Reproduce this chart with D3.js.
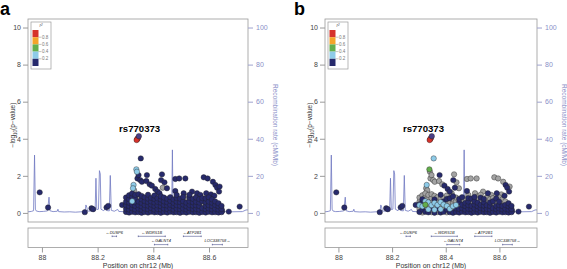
<!DOCTYPE html>
<html>
<head>
<meta charset="utf-8">
<script src="https://cdn.jsdelivr.net/npm/d3@7"></script>
<style>
  body { margin: 0; background: #fff; }
  svg { display: block; font-family: "Liberation Sans", Arial, sans-serif; }
</style>
</head>
<body>
<svg id="chart" width="567" height="269"></svg>
<script>
// ---- data ----
const xDomain = [87.95, 88.74];
const xTicks = [88, 88.2, 88.4, 88.6];
const logpTicks = [0, 2, 4, 6, 8, 10];
const recTicks = [0, 20, 40, 60, 80, 100];
const legendCodes = ['r', 'o', 'g', 'l', 'n'];
const legendLabels = ['0.8', '0.6', '0.4', '0.2'];
const leadSnp = 'rs770373';

// LD codes: x = no r2, n < 0.2, l 0.2-0.4, g 0.4-0.6, o 0.6-0.8, r > 0.8, p = reference
const ldColors = { x: '#a3a3a3', n: '#272a6c', l: '#8ecbe8', g: '#63ae4c', o: '#f4a42a', r: '#d6322b', p: '#4a3f86' };
const drawOrder = ['x', 'n', 'l', 'g', 'o', 'r', 'p'];

// recombination rate, cM/Mb
const recombination = [
  [87.950, 0.6], [87.962, 0.8], [87.970, 1.2], [87.9735, 31.2], [87.9765, 2.0], [87.980, 1.0],
  [87.990, 0.7], [88.005, 0.8], [88.020, 1.1], [88.0255, 8.5], [88.0285, 1.2], [88.040, 0.7],
  [88.055, 0.9], [88.0575, 2.0], [88.060, 0.7], [88.080, 0.5], [88.100, 0.6], [88.120, 0.4],
  [88.140, 0.6], [88.155, 0.9], [88.158, 4.3], [88.161, 3.1], [88.164, 1.0], [88.178, 0.9],
  [88.191, 1.2], [88.194, 18.7], [88.197, 1.8], [88.203, 2.0], [88.2065, 22.8], [88.2095, 21.0],
  [88.212, 2.0], [88.222, 1.2], [88.228, 2.6], [88.232, 1.3], [88.242, 1.1], [88.2455, 20.2],
  [88.249, 1.4], [88.260, 0.9], [88.272, 1.9], [88.276, 0.8], [88.300, 0.6], [88.340, 0.7],
  [88.400, 0.8], [88.440, 0.7], [88.466, 1.2], [88.4685, 34.0], [88.471, 1.2], [88.500, 0.8],
  [88.560, 0.7], [88.620, 0.8], [88.680, 0.6], [88.720, 0.7], [88.733, 1.6], [88.740, 1.6]
];

// [position Mb, -log10 p, LD code panel a, LD code panel b]
const snps = [
  [87.992, 1.11, 'n', 'n'], [88.022, 0.29, 'n', 'n'], [88.154, 0.04, 'n', 'n'],
  [88.178, 0.25, 'n', 'n'], [88.184, 0.20, 'n', 'n'], [88.232, 0.30, 'n', 'n'],
  [88.238, 0.38, 'n', 'n'], [88.288, 0.43, 'n', 'n'], [88.303, 0.47, 'n', 'n'],
  [88.315, 0.57, 'n', 'n'],
  [88.348, 4.14, 'p', 'p'], [88.342, 3.98, 'r', 'r'], [88.345, 4.04, 'r', 'r'], [88.340, 3.93, 'r', 'r'],
  [88.355, 2.94, 'n', 'l'], [88.339, 2.35, 'l', 'g'], [88.341, 2.22, 'l', 'x'], [88.343, 1.86, 'n', 'x'],
  [88.329, 1.51, 'l', 'l'], [88.327, 1.33, 'l', 'x'], [88.331, 1.22, 'x', 'x'], [88.347, 2.04, 'n', 'x'],
  [88.353, 1.77, 'n', 'x'], [88.359, 1.68, 'n', 'x'], [88.377, 2.04, 'n', 'n'], [88.375, 1.72, 'n', 'x'],
  [88.387, 1.54, 'n', 'x'], [88.395, 1.47, 'n', 'n'], [88.431, 2.08, 'n', 'x'], [88.428, 1.77, 'n', 'n'],
  [88.440, 1.65, 'n', 'x'], [88.434, 1.36, 'x', 'n'], [88.479, 1.83, 'n', 'x'], [88.493, 1.86, 'n', 'x'],
  [88.515, 1.86, 'n', 'x'], [88.581, 1.92, 'n', 'x'], [88.595, 1.86, 'n', 'x'], [88.614, 1.68, 'n', 'x'],
  [88.623, 1.51, 'n', 'n'], [88.629, 1.36, 'n', 'n'], [88.638, 1.42, 'n', 'x'], [88.407, 1.29, 'n', 'n'],
  [88.415, 1.15, 'n', 'n'], [88.422, 1.06, 'n', 'x'], [88.449, 1.33, 'n', 'x'], [88.479, 1.18, 'n', 'n'],
  [88.509, 1.06, 'n', 'x'], [88.518, 0.88, 'x', 'x'], [88.539, 1.15, 'n', 'x'], [88.557, 1.06, 'n', 'n'],
  [88.575, 0.61, 'x', 'x'], [88.569, 0.97, 'n', 'x'], [88.590, 1.06, 'n', 'n'], [88.607, 1.00, 'n', 'x'],
  [88.619, 0.93, 'n', 'n'], [88.636, 1.15, 'n', 'n'], [88.710, 0.34, 'n', 'n'], [88.671, 0.07, 'n', 'n'],
  [88.647, 0.11, 'n', 'n']
];

// dense low-signal block: [position, -log10 p values, LD codes a, LD codes b]
const bandColumns = [
  [88.302, [0.05, 0.22, 0.41, 0.60, 0.83], 'nnnnn', 'nxlxx'],
  [88.313, [0.02, 0.18, 0.36, 0.55, 0.74, 0.95], 'nnnnnn', 'xnlxnx'],
  [88.324, [0.06, 0.25, 0.44, 0.63, 0.86, 1.05], 'nnnlnn', 'nxglxx'],
  [88.335, [0.03, 0.19, 0.38, 0.57, 0.78, 0.97], 'nnnnnn', 'nlxlxx'],
  [88.347, [0.04, 0.23, 0.42, 0.61, 0.80, 1.01], 'nnnnxn', 'xnlxxx'],
  [88.358, [0.01, 0.17, 0.35, 0.54, 0.73, 0.92], 'nnnnnn', 'nlxlnx'],
  [88.369, [0.05, 0.24, 0.43, 0.64, 0.84], 'nnnnn', 'xnlxx'],
  [88.381, [0.02, 0.20, 0.39, 0.58, 0.77, 0.98], 'nnnnnn', 'nlxlxn'],
  [88.392, [0.06, 0.26, 0.45, 0.62, 0.81], 'nnnnn', 'nxlnx'],
  [88.404, [0.03, 0.18, 0.37, 0.56, 0.75, 0.94], 'nnnnnn', 'xnlxnx'],
  [88.415, [0.04, 0.22, 0.41, 0.60, 0.79], 'nnnnn', 'nlxxn'],
  [88.427, [0.01, 0.19, 0.36, 0.55, 0.72, 0.90], 'nnnnnn', 'nxlxxn'],
  [88.438, [0.05, 0.24, 0.43, 0.62, 0.83], 'nnnnn', 'nnlxx'],
  [88.450, [0.02, 0.21, 0.40, 0.57, 0.76], 'nnnnn', 'nnxnn'],
  [88.461, [0.06, 0.25, 0.44, 0.65, 0.85], 'nnnnn', 'nnnxn'],
  [88.473, [0.03, 0.18, 0.37, 0.54, 0.73], 'nnnnn', 'nnnnx'],
  [88.484, [0.04, 0.23, 0.42, 0.61, 0.80, 0.97], 'nnnnnn', 'nnnnnx'],
  [88.496, [0.01, 0.20, 0.38, 0.58, 0.77], 'nnnnn', 'nnnxn'],
  [88.507, [0.05, 0.24, 0.45, 0.63, 0.86], 'nnnnn', 'nnnnn'],
  [88.519, [0.02, 0.19, 0.36, 0.55, 0.72], 'nnnnx', 'nnnnx'],
  [88.530, [0.06, 0.26, 0.43, 0.62, 0.82, 0.98], 'nnnnnn', 'nnnxnx'],
  [88.542, [0.03, 0.21, 0.39, 0.58, 0.76], 'nnnnn', 'nnnnn'],
  [88.553, [0.04, 0.22, 0.41, 0.60, 0.83], 'nnnnn', 'nnnxx'],
  [88.565, [0.01, 0.18, 0.37, 0.56, 0.74], 'nnnnn', 'nnnnx'],
  [88.576, [0.05, 0.25, 0.44, 0.63, 0.80], 'nnxnn', 'nnxnx'],
  [88.588, [0.02, 0.20, 0.38, 0.57, 0.78], 'nnnnn', 'nnnxn'],
  [88.599, [0.06, 0.24, 0.42, 0.61, 0.84], 'nnnnn', 'nnnnx'],
  [88.611, [0.03, 0.19, 0.37, 0.55, 0.73], 'nnnnn', 'nnnxx'],
  [88.622, [0.04, 0.23, 0.43, 0.62], 'nnnn', 'nnnx'],
  [88.634, [0.02, 0.18, 0.36, 0.52], 'nnnn', 'nnnn'],
  [88.645, [0.04, 0.21, 0.38], 'nnn', 'nnn']
];

// genes: name, start, end, strand, row
const genes = [
  ['DUSP6', 88.252, 88.268, '-', 0],
  ['WDR51B', 88.346, 88.443, '-', 0],
  ['ATP2B1', 88.508, 88.572, '-', 0],
  ['GALNT4', 88.404, 88.452, '-', 1],
  ['LOC338758', 88.612, 88.648, '+', 1]
];

// ---- layout ----
const plotTop = 19, plotBottom = 222, geneTop = 228, geneBottom = 247.5;
const panels = [
  { name: 'a', left: 28, right: 248, ld: 2, leadLabelPos: 88.351, letterX: 0 },
  { name: 'b', left: 325, right: 537, ld: 3, leadLabelPos: 88.317, letterX: 294 }
];

const allSnps = snps.concat(bandColumns.flatMap(c =>
  c[1].map((v, i) => [c[0], v, c[2][i], c[3][i]])));

const svg = d3.select('#chart');
const y = d3.scaleLinear().domain([-0.49, 10.46]).range([plotBottom, plotTop]);
const yRec = d3.scaleLinear().domain([-4.9, 104.6]).range([plotBottom, plotTop]);
const font = '"Liberation Sans", Arial, sans-serif';

panels.forEach(drawPanel);

function drawPanel(p) {
  const x = d3.scaleLinear().domain(xDomain).range([p.left, p.right]);
  const g = svg.append('g');
  const clipId = 'clip-' + p.name;
  svg.append('clipPath').attr('id', clipId)
    .append('rect').attr('x', p.left).attr('y', plotTop)
    .attr('width', p.right - p.left).attr('height', plotBottom - plotTop);

  // panel letter
  g.append('text').attr('x', p.letterX).attr('y', 15)
    .attr('font-size', 18).attr('font-weight', 'bold').attr('fill', '#000')
    .text(p.name);

  // recombination rate
  const line = d3.line().x(d => x(d[0])).y(d => yRec(d[1]));
  g.append('path').datum(recombination)
    .attr('clip-path', `url(#${clipId})`)
    .attr('fill', 'none').attr('stroke', '#7079c2').attr('stroke-width', 0.8)
    .attr('d', line);

  // SNPs
  const pts = allSnps.map(s => ({ pos: s[0], logp: s[1], ld: s[p.ld] }))
    .sort((a, b) => drawOrder.indexOf(a.ld) - drawOrder.indexOf(b.ld));
  g.append('g').attr('clip-path', `url(#${clipId})`)
    .selectAll('circle').data(pts).join('circle')
    .attr('cx', d => x(d.pos)).attr('cy', d => y(d.logp)).attr('r', 2.7)
    .attr('fill', d => ldColors[d.ld])
    .attr('stroke', '#222').attr('stroke-width', 0.4);

  // lead label
  g.append('text').attr('x', x(p.leadLabelPos)).attr('y', 132)
    .attr('text-anchor', 'middle').attr('font-size', 9.6).attr('font-weight', 'bold')
    .attr('fill', '#000').text(leadSnp);

  // frames
  g.append('rect').attr('x', p.left).attr('y', plotTop)
    .attr('width', p.right - p.left).attr('height', plotBottom - plotTop)
    .attr('fill', 'none').attr('stroke', '#9a9a9a').attr('stroke-width', 0.8);
  g.append('rect').attr('x', p.left).attr('y', geneTop)
    .attr('width', p.right - p.left).attr('height', geneBottom - geneTop)
    .attr('fill', 'none').attr('stroke', '#9a9a9a').attr('stroke-width', 0.8);

  // left axis
  const yAxis = g.append('g').attr('transform', `translate(${p.left},0)`)
    .call(d3.axisLeft(y).tickValues(logpTicks).tickSize(5).tickPadding(2))
    .attr('font-size', 7).attr('font-family', font);
  yAxis.select('.domain').remove();
  yAxis.selectAll('line').attr('stroke', '#9a9a9a');
  yAxis.selectAll('text').attr('fill', '#444');

  // right axis
  const rAxis = g.append('g').attr('transform', `translate(${p.right},0)`)
    .call(d3.axisRight(yRec).tickValues(recTicks).tickSize(5).tickPadding(3))
    .attr('font-size', 7).attr('font-family', font);
  rAxis.select('.domain').remove();
  rAxis.selectAll('line').attr('stroke', '#9fa3cf');
  rAxis.selectAll('text').attr('fill', '#8a8fc8');

  // bottom axis
  const xAxis = g.append('g').attr('transform', `translate(0,${geneBottom})`)
    .call(d3.axisBottom(x).tickValues(xTicks).tickSize(5).tickPadding(3).tickFormat(d3.format('~g')))
    .attr('font-size', 7).attr('font-family', font);
  xAxis.select('.domain').remove();
  xAxis.selectAll('line').attr('stroke', '#9a9a9a');
  xAxis.selectAll('text').attr('fill', '#444');

  // axis titles
  const mid = (p.left + p.right) / 2;
  g.append('text').attr('x', mid).attr('y', 268)
    .attr('text-anchor', 'middle').attr('font-size', 7).attr('fill', '#333')
    .text('Position on chr12 (Mb)');

  const yl = g.append('text')
    .attr('transform', `translate(${p.left - 13},125) rotate(-90)`)
    .attr('text-anchor', 'middle').attr('font-size', 6.5).attr('fill', '#333');
  yl.append('tspan').text('\u2212log');
  yl.append('tspan').attr('font-size', 4.5).attr('dy', 1.5).text('10');
  yl.append('tspan').attr('dy', -1.5).text('(p\u2212value)');

  g.append('text')
    .attr('transform', `translate(${p.right + 25},125) rotate(90)`)
    .attr('text-anchor', 'middle').attr('font-size', 6.5).attr('fill', '#8a8fc8')
    .text('Recombination rate (cM/Mb)');

  // legend
  const lx = p.left + 3, ly = 22;
  const lg = g.append('g');
  lg.append('rect').attr('x', lx).attr('y', ly).attr('width', 20).attr('height', 47)
    .attr('fill', '#fff').attr('stroke', '#9a9a9a').attr('stroke-width', 0.7);
  const rt = lg.append('text').attr('x', lx + 10).attr('y', ly + 5)
    .attr('text-anchor', 'middle').attr('font-size', 4.5).attr('font-style', 'italic').attr('fill', '#555');
  rt.append('tspan').text('r');
  rt.append('tspan').attr('font-size', 3).attr('dy', -1.5).text('2');
  const sy = d3.scaleBand().domain(legendCodes).range([ly + 8, ly + 44]);
  lg.selectAll('.sw').data(legendCodes).join('rect').attr('class', 'sw')
    .attr('x', lx + 1.5).attr('y', d => sy(d)).attr('width', 6).attr('height', sy.bandwidth())
    .attr('fill', d => ldColors[d]);
  lg.selectAll('.lt').data(legendLabels).join('line').attr('class', 'lt')
    .attr('x1', lx + 7.5).attr('x2', lx + 10.5)
    .attr('y1', (d, i) => sy(legendCodes[i + 1])).attr('y2', (d, i) => sy(legendCodes[i + 1]))
    .attr('stroke', '#888').attr('stroke-width', 0.5);
  lg.selectAll('.ll').data(legendLabels).join('text').attr('class', 'll')
    .attr('x', lx + 11).attr('y', (d, i) => sy(legendCodes[i + 1]) + 1.5)
    .attr('font-size', 4.5).attr('fill', '#777').text(d => d);

  // genes
  const rowText = [234, 242.3], rowLine = [236.3, 244.6];
  const gg = g.append('g');
  genes.forEach(([name, start, end, strand, row]) => {
    gg.append('line').attr('x1', x(start)).attr('x2', x(end))
      .attr('y1', rowLine[row]).attr('y2', rowLine[row])
      .attr('stroke', '#2d347a').attr('stroke-width', 0.5);
    [start, end].forEach(v => gg.append('line')
      .attr('x1', x(v)).attr('x2', x(v))
      .attr('y1', rowLine[row] - 0.8).attr('y2', rowLine[row] + 0.8)
      .attr('stroke', '#2d347a').attr('stroke-width', 0.6));
    gg.append('text').attr('x', x((start + end) / 2)).attr('y', rowText[row])
      .attr('text-anchor', 'middle').attr('font-size', 4).attr('font-style', 'italic')
      .attr('fill', '#222')
      .text(strand === '-' ? '\u2190' + name : name + '\u2192');
  });
}
</script>
</body>
</html>
